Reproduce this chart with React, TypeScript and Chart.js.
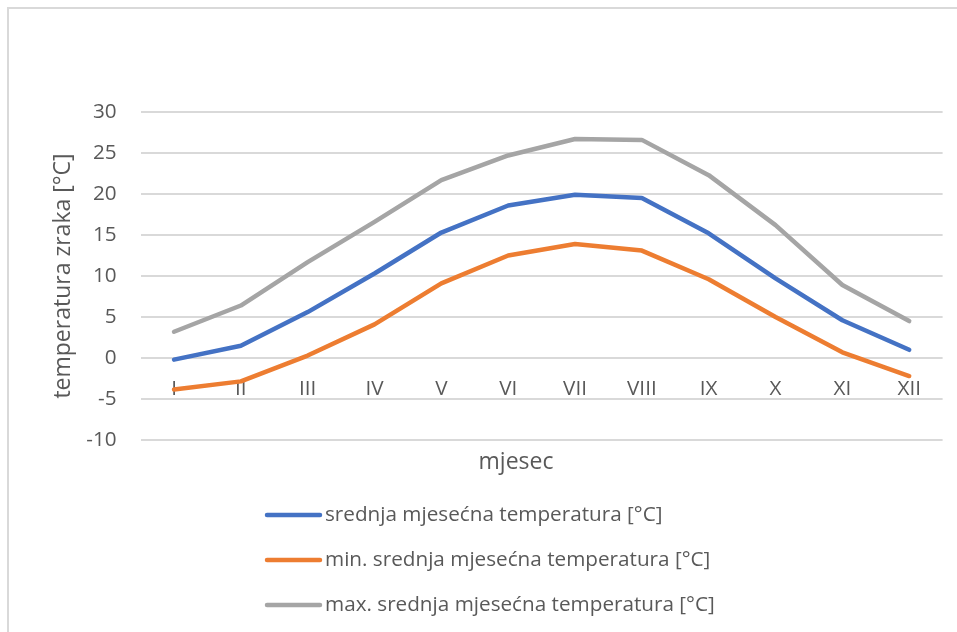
import { useEffect, useRef } from "react";
import { Chart, registerables } from "chart.js";

Chart.register(...registerables);

const months = ["I", "II", "III", "IV", "V", "VI", "VII", "VIII", "IX", "X", "XI", "XII"];
const meanTemp = [-0.2, 1.5, 5.6, 10.3, 15.3, 18.6, 19.9, 19.5, 15.2, 9.7, 4.6, 1.0];
const minTemp = [-3.85, -2.85, 0.3, 4.1, 9.1, 12.5, 13.9, 13.1, 9.6, 5.0, 0.7, -2.2];
const maxTemp = [3.2, 6.4, 11.7, 16.6, 21.7, 24.7, 26.7, 26.6, 22.3, 16.2, 8.9, 4.5];
const seriesLabels = [
  "srednja mjesećna temperatura [°C]",
  "min. srednja mjesećna temperatura [°C]",
  "max. srednja mjesećna temperatura [°C]",
];
const yMin = -10;
const yMax = 30;
const yStep = 5;
const xTitle = "mjesec";
const yTitle = "temperatura zraka [°C]";

const FONT = "'Open Sans'";
const FS = 20.7;
const TFS = 23;
const TEXT = "#595959";
const GRID = "#d9d9d9";
const COLORS = ["#4472C4", "#ED7D31", "#A5A5A5"];

const overlay = {
  id: "overlay",
  beforeDatasetsDraw(chart: any) {
    const ctx = chart.ctx;
    const x = chart.scales.x;
    const y = chart.scales.y;
    ctx.save();
    ctx.fillStyle = TEXT;
    ctx.font = `${FS}px ${FONT}`;
    ctx.textAlign = "center";
    ctx.textBaseline = "middle";
    const ly = y.getPixelForValue(0) + 31;
    months.forEach((m, i) => ctx.fillText(m, x.getPixelForValue(i), ly));
    ctx.restore();
  },
  afterDraw(chart: any) {
    const ctx = chart.ctx;
    ctx.save();
    ctx.fillStyle = TEXT;
    ctx.font = `${TFS}px ${FONT}`;
    ctx.textAlign = "center";
    ctx.textBaseline = "middle";
    ctx.fillText(xTitle, 516, 462);
    ctx.font = `${FS}px ${FONT}`;
    chart.data.datasets.forEach((ds: any, i: number) => {
      const ry = 515 + i * 45;
      ctx.strokeStyle = ds.borderColor;
      ctx.lineWidth = 4.5;
      ctx.lineCap = "round";
      ctx.beginPath();
      ctx.moveTo(267, ry);
      ctx.lineTo(320, ry);
      ctx.stroke();
      ctx.textAlign = "left";
      ctx.fillText(ds.label, 325, ry);
    });
    ctx.restore();
  },
};

export default function App() {
  const ref = useRef<HTMLCanvasElement>(null);
  useEffect(() => {
    if (!ref.current) return;
    const chart = new Chart(ref.current, {
      type: "line",
      data: {
        labels: months,
        datasets: [
          { label: seriesLabels[0], data: meanTemp, borderColor: COLORS[0], backgroundColor: COLORS[0] },
          { label: seriesLabels[1], data: minTemp, borderColor: COLORS[1], backgroundColor: COLORS[1] },
          { label: seriesLabels[2], data: maxTemp, borderColor: COLORS[2], backgroundColor: COLORS[2] },
        ].map((d) => ({
          ...d,
          borderWidth: 4.5,
          pointRadius: 0,
          pointHoverRadius: 0,
          tension: 0,
          borderCapStyle: "round" as const,
          borderJoinStyle: "round" as const,
          fill: false,
        })),
      },
      options: {
        responsive: false,
        animation: false,
        devicePixelRatio: 1,
        layout: { padding: { top: 112, right: 14.4, bottom: 192, left: 0 } },
        plugins: { legend: { display: false }, tooltip: { enabled: false } },
        scales: {
          x: { type: "category", display: false, offset: true },
          y: {
            min: yMin,
            max: yMax,
            ticks: { stepSize: yStep, color: TEXT, font: { family: FONT, size: FS }, padding: 24 },
            grid: { color: GRID, lineWidth: 2, drawTicks: false },
            border: { display: false },
            title: {
              display: true,
              text: yTitle,
              color: TEXT,
              font: { family: FONT, size: TFS },
              padding: { top: 49.2, bottom: 0 },
            },
            afterFit: (s: any) => {
              s.width = 140.6;
            },
          },
        },
      },
      plugins: [overlay],
    });
    return () => chart.destroy();
  }, []);
  return (
    <div style={{ position: "fixed", left: 0, top: 0, width: 957, height: 632, overflow: "hidden", background: "#fff" }}>
      <div
        style={{
          position: "absolute",
          left: 7,
          top: 7,
          width: 2000,
          height: 2000,
          borderLeft: `2px solid ${GRID}`,
          borderTop: `2px solid ${GRID}`,
        }}
      />
      <canvas ref={ref} width={957} height={632} style={{ position: "absolute", left: 0, top: 0, width: 957, height: 632 }} />
    </div>
  );
}
